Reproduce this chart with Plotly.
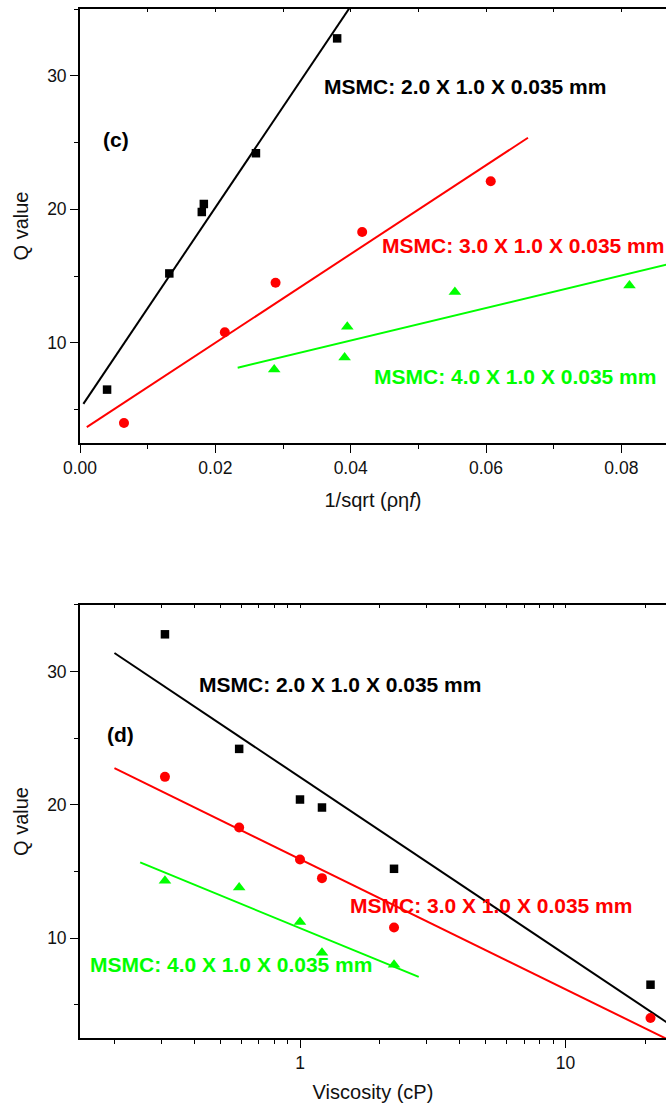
import numpy as np
import plotly.graph_objects as go

# ---- data -------------------------------------------------------------
# Panel (c): Q value versus 1/sqrt(rho*eta*f)
c_x_2mm = [0.0040, 0.0132, 0.0180, 0.0183, 0.0260, 0.0380]
c_q_2mm = [6.5, 15.2, 19.8, 20.4, 24.2, 32.8]
c_x_3mm = [0.0065, 0.0214, 0.0289, 0.0417, 0.0607]
c_q_3mm = [4.0, 10.8, 14.5, 18.3, 22.1]
c_x_4mm = [0.0287, 0.0391, 0.0395, 0.0554, 0.0812]
c_q_4mm = [8.0, 8.9, 11.2, 13.8, 14.3]

# Panel (d): Q value versus viscosity (cP)
viscosity_cp = [0.31, 0.59, 1.0, 1.21, 2.26, 20.9]
d_q_2mm = [32.8, 24.2, 20.4, 19.8, 15.2, 6.5]
d_q_3mm = [22.1, 18.3, 15.9, 14.5, 10.8, 4.0]
d_visc_4mm = [0.31, 0.59, 1.0, 1.21, 2.26]
d_q_4mm = [14.3, 13.8, 11.2, 8.9, 8.0]

# x-extent of each fitted line
c_fit_span_2mm = [0.0005, 0.05]
c_fit_span_3mm = [0.0010, 0.0662]
c_fit_span_4mm = [0.0233, 0.095]
d_fit_span_2mm = [0.2, 30.0]
d_fit_span_3mm = [0.2, 30.0]
d_fit_span_4mm = [0.25, 2.8]

labels = ["MSMC: 2.0 X 1.0 X 0.035 mm",
          "MSMC: 3.0 X 1.0 X 0.035 mm",
          "MSMC: 4.0 X 1.0 X 0.035 mm"]

BLACK, RED, GREEN = "#000000", "#ff0000", "#00ff00"
FONT = "Arial, Liberation Sans, sans-serif"


def linear_fit(xs, ys, span, logx=False):
    """Least-squares line through the points, evaluated on span."""
    xs = np.asarray(xs, float)
    span = np.asarray(span, float)
    if logx:
        k, b = np.polyfit(np.log10(xs), ys, 1)
        return span, k * np.log10(span) + b
    k, b = np.polyfit(xs, ys, 1)
    return span, k * span + b


fig = go.Figure()

series_c = [(c_x_2mm, c_q_2mm, c_fit_span_2mm, BLACK, "square", 8.5),
            (c_x_3mm, c_q_3mm, c_fit_span_3mm, RED, "circle", 10),
            (c_x_4mm, c_q_4mm, c_fit_span_4mm, GREEN, "triangle-up", 11)]
for xs, ys, span, col, sym, size in series_c:
    fx, fy = linear_fit(xs, ys, span)
    fig.add_trace(go.Scatter(x=fx, y=fy, mode="lines", xaxis="x", yaxis="y",
                             line=dict(color=col, width=2),
                             showlegend=False, hoverinfo="skip"))
    fig.add_trace(go.Scatter(x=xs, y=ys, mode="markers", xaxis="x", yaxis="y",
                             marker=dict(color=col, symbol=sym, size=size,
                                         line=dict(width=0)),
                             showlegend=False))

series_d = [(viscosity_cp, d_q_2mm, d_fit_span_2mm, BLACK, "square", 8.5),
            (viscosity_cp, d_q_3mm, d_fit_span_3mm, RED, "circle", 10),
            (d_visc_4mm, d_q_4mm, d_fit_span_4mm, GREEN, "triangle-up", 11)]
for xs, ys, span, col, sym, size in series_d:
    fx, fy = linear_fit(xs, ys, span, logx=True)
    fig.add_trace(go.Scatter(x=fx, y=fy, mode="lines", xaxis="x2", yaxis="y2",
                             line=dict(color=col, width=2),
                             showlegend=False, hoverinfo="skip"))
    fig.add_trace(go.Scatter(x=xs, y=ys, mode="markers", xaxis="x2", yaxis="y2",
                             marker=dict(color=col, symbol=sym, size=size,
                                         line=dict(width=0)),
                             showlegend=False))

axis_common = dict(showline=True, linecolor="black", linewidth=1.8,
                   ticks="outside", tickcolor="black", tickwidth=1.4,
                   ticklen=8, showgrid=False, zeroline=False,
                   tickfont=dict(family=FONT, size=17.5, color="#111"),
                   title_font=dict(family=FONT, size=20, color="#111"))

c_xrange = [0, 0.0866]
d_xrange = [-0.8286, 1.3785]

fig.update_layout(
    width=666, height=1108,
    margin=dict(l=80, r=0, t=9, b=70),
    paper_bgcolor="white", plot_bgcolor="white",
    font=dict(family=FONT, color="black"),
    xaxis=dict(axis_common, domain=[0, 1], anchor="y", range=c_xrange,
               dtick=0.02, tick0=0, tickformat=".2f",
               minor=dict(dtick=0.01, ticks="outside", ticklen=4,
                          tickcolor="black", tickwidth=1.4),
               title=dict(text="1/sqrt (ρη<i>f</i>)", standoff=16)),
    yaxis=dict(axis_common, domain=[0.5782, 1], anchor="x", range=[2.5, 35],
               dtick=10, tick0=0,
               minor=dict(dtick=5, ticks="outside", ticklen=4,
                          tickcolor="black", tickwidth=1.4),
               title=dict(text="Q value", standoff=13)),
    xaxis3=dict(overlaying="x", anchor="y", side="top", range=c_xrange,
                showline=True, linecolor="black", linewidth=1.8,
                ticks="inside", ticklen=3, tickcolor="black", tickwidth=1.2,
                dtick=0.01, tick0=0, showticklabels=False, showgrid=False,
                zeroline=False),
    xaxis2=dict(axis_common, type="log", domain=[0, 1], anchor="y2",
                range=d_xrange, dtick=1,
                minor=dict(dtick="D1", ticks="outside", ticklen=4,
                           tickcolor="black", tickwidth=1.4),
                title=dict(text="Viscosity (cP)", standoff=13)),
    yaxis2=dict(axis_common, domain=[0, 0.4208], anchor="x2", range=[2.5, 35],
                dtick=10, tick0=0,
                minor=dict(dtick=5, ticks="outside", ticklen=4,
                           tickcolor="black", tickwidth=1.4),
                title=dict(text="Q value", standoff=13)),
    xaxis4=dict(overlaying="x2", anchor="y2", side="top", type="log",
                range=d_xrange, showline=True, linecolor="black",
                linewidth=1.8, ticks="inside", ticklen=3, tickcolor="black",
                tickwidth=1.2, dtick="D1", showticklabels=False,
                showgrid=False, zeroline=False),
)

# keep the mirrored top axes in the figure
fig.add_trace(go.Scatter(x=[None], y=[None], xaxis="x3", yaxis="y",
                         showlegend=False, hoverinfo="skip"))
fig.add_trace(go.Scatter(x=[None], y=[None], xaxis="x4", yaxis="y2",
                         showlegend=False, hoverinfo="skip"))


def label(text, x, y, xref, yref, color):
    fig.add_annotation(text="<b>%s</b>" % text, x=x, y=y, xref=xref, yref=yref,
                       xanchor="left", yanchor="middle", showarrow=False,
                       font=dict(family=FONT, size=21, color=color))


# panel (c) labels
label("(c)", 0.0031, 25.2, "x", "y", BLACK)
label(labels[0], 0.0358, 29.2, "x", "y", BLACK)
label(labels[1], 0.0443, 17.3, "x", "y", RED)
label(labels[2], 0.0431, 7.5, "x", "y", GREEN)

# panel (d) labels (x in log10 units)
label("(d)", -0.7345, 25.25, "x2", "y2", BLACK)
label(labels[0], -0.389, 29.0, "x2", "y2", BLACK)
label(labels[1], 0.182, 12.48, "x2", "y2", RED)
label(labels[2], -0.798, 8.05, "x2", "y2", GREEN)

fig.write_html("out.html")
